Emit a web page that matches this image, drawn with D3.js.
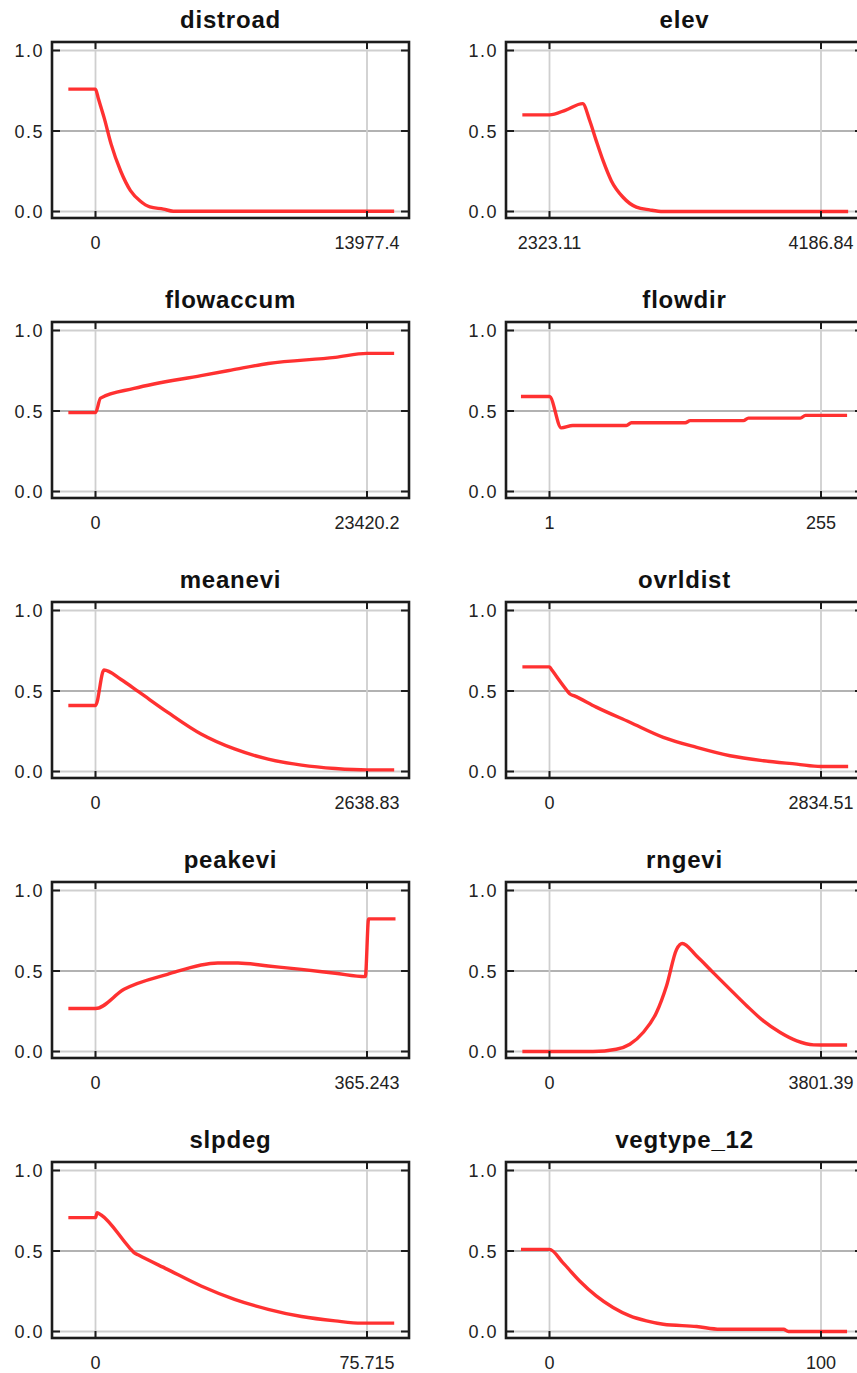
<!DOCTYPE html>
<html>
<head>
<meta charset="utf-8" />
<title>Maxent response curves</title>
<style>
html, body {
  margin: 0;
  padding: 0;
  background: #fff;
}
svg { display: block; }
.title {
  font: bold 24px "Liberation Sans", Arial, sans-serif;
  letter-spacing: 0.8px;
  fill: #111;
}
.lbl {
  font: 18px "Liberation Sans", Arial, sans-serif;
  fill: #222;
}
.ylbl {
  font: 18px "Liberation Sans", Arial, sans-serif;
  letter-spacing: 1.5px;
  fill: #222;
}
</style>
</head>
<body>
<script src="https://d3js.org/d3.v7.min.js"></script>
<script>

// ---------------------------------------------------------
// Data: one response curve per variable, [value, probability]

const names = ['distroad', 'elev', 'flowaccum', 'flowdir', 'meanevi',
               'ovrldist', 'peakevi', 'rngevi', 'slpdeg', 'vegtype_12']

// min / max of each variable (vertical grid lines + labels)
const xMins = [0, 2323.11, 0, 1, 0, 0, 0, 0, 0, 0]
const xMaxs = [13977.4, 4186.84, 23420.2, 255, 2638.83, 2834.51, 365.243, 3801.39, 75.715, 100]
const xTickLabels = [
  ['0', '13977.4'], ['2323.11', '4186.84'], ['0', '23420.2'], ['1', '255'],
  ['0', '2638.83'], ['0', '2834.51'], ['0', '365.243'], ['0', '3801.39'],
  ['0', '75.715'], ['0', '100']
]
const yTicks = [0, 0.5, 1]
const yTickLabels = ['0.0', '0.5', '1.0']

const distroad = [[-1398, 0.76], [0, 0.76], [150, 0.70], [450, 0.58], [800, 0.42],
  [1300, 0.25], [1800, 0.13], [2300, 0.065], [2800, 0.028], [3500, 0.015],
  [4000, 0.002], [15375, 0.002]]

const elev = [[2136.7, 0.60], [2323.1, 0.60], [2435, 0.63], [2550.5, 0.67],
  [2598.9, 0.565], [2643.7, 0.44], [2690.3, 0.317], [2748.0, 0.19],
  [2826.3, 0.09], [2919.5, 0.027], [3010.8, 0.01], [3102.2, 0.0], [4373.2, 0.0]]

const flowaccum = [[-2342, 0.49], [0, 0.49], [433, 0.58], [3326, 0.64],
  [9110, 0.72], [11710, 0.754], [14895, 0.795], [20680, 0.833],
  [23420, 0.858], [25762, 0.858]]

const flowdir = [[-25.7, 0.59], [1, 0.59], [12, 0.395], [22.8, 0.41],
  [72.9, 0.41], [77.6, 0.427], [128, 0.427], [132.6, 0.44], [182.4, 0.44],
  [187.1, 0.456], [235.7, 0.456], [240.5, 0.473], [279.4, 0.473]]

const meanevi = [[-264, 0.41], [0, 0.41], [82, 0.63], [245, 0.573], [422, 0.494],
  [699, 0.369], [1026, 0.233], [1351, 0.14], [1678, 0.077], [2003, 0.04],
  [2330, 0.019], [2638.83, 0.01], [2903, 0.01]]

const ovrldist = [[-283, 0.65], [0, 0.65], [25, 0.63], [180, 0.505], [210, 0.483],
  [260, 0.47], [488, 0.40], [839, 0.306], [1188, 0.2125], [1536, 0.15],
  [1885, 0.098], [2234, 0.067], [2582, 0.046], [2834.51, 0.031], [3118, 0.031]]

const peakevi = [[-36.5, 0.267], [0, 0.267], [38.4, 0.386], [96.8, 0.479],
  [164.4, 0.55], [191.8, 0.55], [232.3, 0.531], [277.2, 0.51], [322.5, 0.486],
  [363, 0.465], [367.4, 0.824], [403.6, 0.824]]

const rngevi = [[-380, 0.0], [0, 0.0], [608, 0.0], [935, 0.014], [1125, 0.045],
  [1311, 0.118], [1498, 0.242], [1638, 0.407], [1779, 0.634], [1859, 0.671],
  [2060, 0.593], [2292, 0.49], [2528, 0.386], [2764, 0.283], [2995, 0.19],
  [3231, 0.118], [3463, 0.066], [3699, 0.041], [3801.39, 0.04], [4167, 0.04]]

const slpdeg = [[-7.57, 0.707], [0, 0.707], [0.45, 0.738], [1.5, 0.725],
  [9.5, 0.52], [10.75, 0.49], [12, 0.475], [20.06, 0.386], [29.45, 0.283],
  [38.77, 0.2], [48.15, 0.138], [57.47, 0.093], [66.86, 0.066], [74.2, 0.052],
  [83.3, 0.052]]

const vegtype_12 = [[-10.5, 0.51], [0, 0.51], [4.9, 0.428], [11.1, 0.314],
  [17.2, 0.221], [23.4, 0.149], [29.6, 0.097], [35.7, 0.066], [41.9, 0.045],
  [54.2, 0.031], [62.8, 0.014], [86.2, 0.014], [88, 0.0], [109.6, 0.0]]

const curves = [distroad, elev, flowaccum, flowdir, meanevi,
                ovrldist, peakevi, rngevi, slpdeg, vegtype_12]

// ---------------------------------------------------------
// Layout

const W = 857
const H = 1373
const colLeft = [52, 506]
const firstTop = 42
const rowStep = 280
const frameW = 357
const frameH = 176

const svg = d3.select('body').append('svg')
  .attr('width', W)
  .attr('height', H)

svg.append('rect').attr('width', W).attr('height', H).attr('fill', '#fff')

names.forEach(function(name, i) {
  const left = colLeft[i % 2]
  const top = firstTop + rowStep * Math.floor(i / 2)

  const x = d3.scaleLinear()
    .domain([xMins[i], xMaxs[i]])
    .range([left + 43.5, left + 315])
  const y = d3.scaleLinear()
    .domain([0, 1])
    .range([top + 169.5, top + 8.5])

  const g = svg.append('g')

  // title
  g.append('text')
    .attr('class', 'title')
    .attr('x', left + frameW / 2)
    .attr('y', top - 14)
    .attr('text-anchor', 'middle')
    .text(name)

  // horizontal grid
  g.selectAll('.hgrid')
    .data(yTicks)
    .enter().append('line')
    .attr('x1', left).attr('x2', left + frameW)
    .attr('y1', function(d) { return y(d) })
    .attr('y2', function(d) { return y(d) })
    .attr('stroke', function(d) { return d === 0.5 ? '#999' : '#cfcfcf' })
    .attr('stroke-width', function(d) { return d === 0.5 ? 1.3 : 1.8 })

  // vertical grid at min / max
  const xVals = [xMins[i], xMaxs[i]]
  g.selectAll('.vgrid')
    .data(xVals)
    .enter().append('line')
    .attr('x1', function(d) { return x(d) })
    .attr('x2', function(d) { return x(d) })
    .attr('y1', top).attr('y2', top + frameH)
    .attr('stroke', '#cfcfcf')
    .attr('stroke-width', 1.8)

  // the response curve
  const line = d3.line()
    .x(function(d) { return x(d[0]) })
    .y(function(d) { return y(d[1]) })
    .curve(d3.curveMonotoneX)

  g.append('path')
    .datum(curves[i])
    .attr('d', line)
    .attr('fill', 'none')
    .attr('stroke', '#ff2626')
    .attr('stroke-width', 3.4)
    .attr('stroke-linejoin', 'round')
    .attr('opacity', 0.95)

  // frame
  g.append('rect')
    .attr('x', left).attr('y', top)
    .attr('width', frameW).attr('height', frameH)
    .attr('fill', 'none')
    .attr('stroke', '#1c1c1c')
    .attr('stroke-width', 2.6)

  // tick marks on the inside of the frame
  yTicks.forEach(function(v) {
    g.append('line')
      .attr('x1', left).attr('x2', left + 8)
      .attr('y1', y(v)).attr('y2', y(v))
      .attr('stroke', '#1c1c1c').attr('stroke-width', 2)
    g.append('line')
      .attr('x1', left + frameW - 8).attr('x2', left + frameW)
      .attr('y1', y(v)).attr('y2', y(v))
      .attr('stroke', '#1c1c1c').attr('stroke-width', 2)
  })
  xVals.forEach(function(v) {
    g.append('line')
      .attr('x1', x(v)).attr('x2', x(v))
      .attr('y1', top).attr('y2', top + 7)
      .attr('stroke', '#1c1c1c').attr('stroke-width', 2)
    g.append('line')
      .attr('x1', x(v)).attr('x2', x(v))
      .attr('y1', top + frameH - 7).attr('y2', top + frameH)
      .attr('stroke', '#1c1c1c').attr('stroke-width', 2)
  })

  // y labels
  g.selectAll('.ylab')
    .data(yTicks)
    .enter().append('text')
    .attr('class', 'ylbl')
    .attr('x', left - 8)
    .attr('y', function(d) { return y(d) + 6.5 })
    .attr('text-anchor', 'end')
    .text(function(d, j) { return yTickLabels[j] })

  // x labels
  g.selectAll('.xlab')
    .data(xVals)
    .enter().append('text')
    .attr('class', 'lbl')
    .attr('x', function(d) { return x(d) })
    .attr('y', top + frameH + 31)
    .attr('text-anchor', 'middle')
    .text(function(d, j) { return xTickLabels[i][j] })
})

</script>
</body>
</html>
